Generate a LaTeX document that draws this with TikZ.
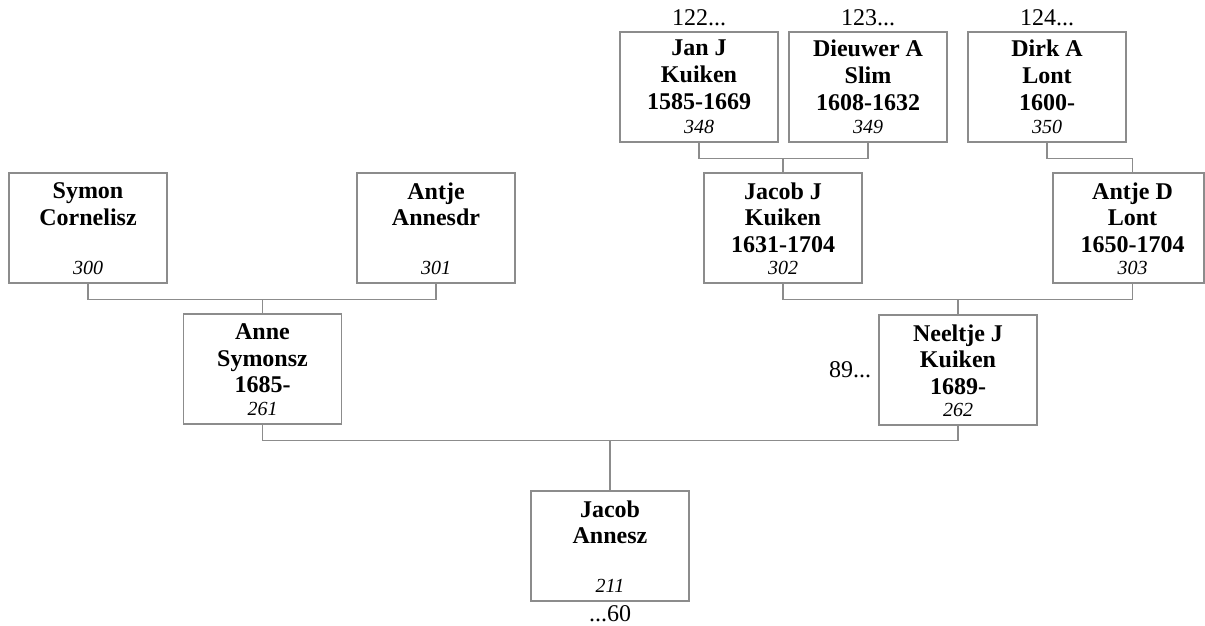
\documentclass[tikz,border=0pt]{standalone}
\usepackage{fontspec}
\setmainfont{Liberation Serif}
\usepackage{tikz}
\usetikzlibrary{positioning, calc}
\definecolor{lgray}{HTML}{8C8C8C}

\begin{document}
\begin{tikzpicture}[x=0.5pt, y=-0.5pt,
  personbox/.style={draw=lgray, line width=0.6pt, rectangle, minimum width=79pt, minimum height=55pt, inner sep=0pt},
  namelbl/.style={anchor=north, align=center, inner sep=4.8pt, font=\fontsize{12}{13.4}\selectfont\bfseries},
  numlbl/.style={anchor=south, inner sep=4.5pt, font=\fontsize{10}{12}\selectfont\itshape},
  reflbl/.style={inner sep=2.7pt, font=\fontsize{12}{14}\selectfont},
  link/.style={draw=lgray, line width=0.6pt}]
\useasboundingbox (0,0) rectangle (1205,626);
\node[personbox] (jan) at (699,87) {};
\node[namelbl, inner sep=4pt] (jan-name) at (jan.north) {Jan J\\Kuiken\\1585-1669};
\node[numlbl] (jan-num) at (jan.south) {348};
\node[reflbl, anchor=south] (jan-ref) at (jan.north) {122...};
\node[personbox] (dieuwer) at (868,87) {};
\node[namelbl, inner sep=4pt] (dieuwer-name) at (dieuwer.north) {Dieuwer A\\Slim\\1608-1632};
\node[numlbl] (dieuwer-num) at (dieuwer.south) {349};
\node[reflbl, anchor=south] (dieuwer-ref) at (dieuwer.north) {123...};
\node[personbox] (dirk) at (1047,87) {};
\node[namelbl, inner sep=4pt] (dirk-name) at (dirk.north) {Dirk A\\Lont\\1600-};
\node[numlbl] (dirk-num) at (dirk.south) {350};
\node[reflbl, anchor=south] (dirk-ref) at (dirk.north) {124...};
\node[personbox] (symon) at (88,228) {};
\node[namelbl] (symon-name) at (symon.north) {Symon\\Cornelisz};
\node[numlbl] (symon-num) at (symon.south) {300};
\node[personbox] (antjea) at (436,228) {};
\node[namelbl] (antjea-name) at (antjea.north) {Antje\\Annesdr};
\node[numlbl] (antjea-num) at (antjea.south) {301};
\node[personbox] (jacobj) at (783,228) {};
\node[namelbl] (jacobj-name) at (jacobj.north) {Jacob J\\Kuiken\\1631-1704};
\node[numlbl] (jacobj-num) at (jacobj.south) {302};
\node[personbox, minimum width=75.5pt] (antjed) at (1128.5,228) {};
\node[namelbl] (antjed-name) at ([xshift=2pt]antjed.north) {Antje D\\Lont\\1650-1704};
\node[numlbl] (antjed-num) at ([xshift=2pt]antjed.south) {303};
\node[personbox] (anne) at (262.5,369) {};
\node[namelbl] (anne-name) at (anne.north) {Anne\\Symonsz\\1685-};
\node[numlbl] (anne-num) at (anne.south) {261};
\node[personbox] (neeltje) at (958,370) {};
\node[namelbl] (neeltje-name) at (neeltje.north) {Neeltje J\\Kuiken\\1689-};
\node[numlbl] (neeltje-num) at (neeltje.south) {262};
\node[reflbl, anchor=east, inner sep=3.5pt] (neeltje-ref) at (neeltje.west) {89...};
\node[personbox] (jacob) at (610,546) {};
\node[namelbl] (jacob-name) at (jacob.north) {Jacob\\Annesz};
\node[numlbl] (jacob-num) at (jacob.south) {211};
\node[reflbl, anchor=north, inner sep=0pt] (jacob-ref) at ([yshift=-2pt]jacob.south) {...60};
\draw[link] (jan.south) -- ++(0,16) coordinate (bar1) -| (dieuwer.south);
\draw[link] (jacobj.north) -- (jacobj.north |- bar1);
\draw[link] (dirk.south) -- ++(0,16) -| ([xshift=2pt]antjed.north);
\draw[link] (symon.south) -- ++(0,16) coordinate (bar2) -| (antjea.south);
\draw[link] (anne.north) -- (anne.north |- bar2);
\draw[link] (jacobj.south) -- ++(0,16) coordinate (bar3) -| ([xshift=2pt]antjed.south);
\draw[link] (neeltje.north) -- (neeltje.north |- bar3);
\draw[link] (anne.south) -- ++(0,16) coordinate (bar4) -| (neeltje.south);
\draw[link] (jacob.north) -- (jacob.north |- bar4);
\end{tikzpicture}
\end{document}
